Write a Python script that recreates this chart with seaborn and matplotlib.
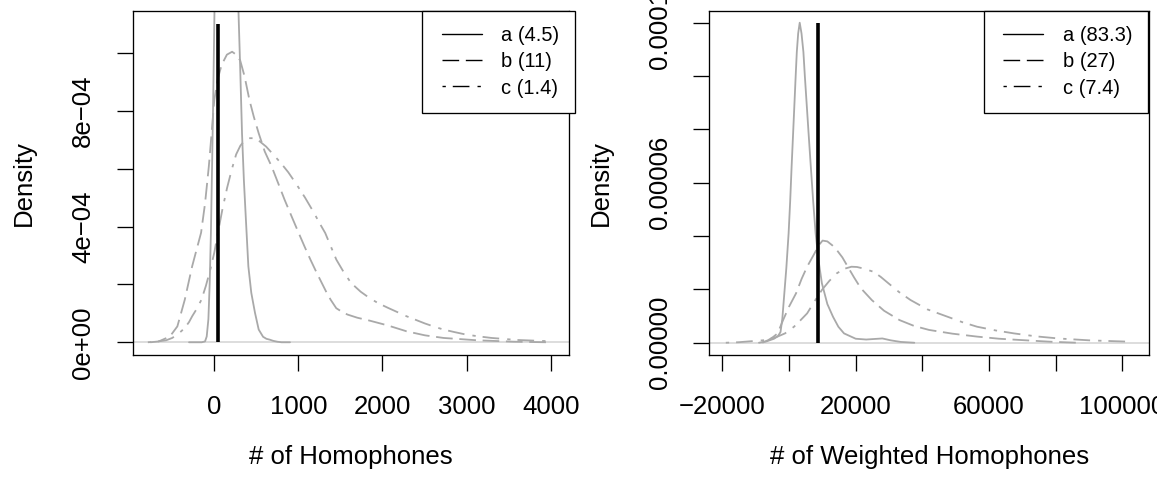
import numpy as np
import pandas as pd
import matplotlib
matplotlib.use("Agg")
import matplotlib.pyplot as plt
from matplotlib.lines import Line2D
import seaborn as sns

# ---------------- data ----------------
# Left panel: # of Homophones
left_a_x = [-300, -150, -110, -90, -70, -55, -40, -28, -15, -5, 5, 20, 40, 70, 110, 150, 190, 230, 260, 287, 308, 330, 352, 374, 405, 440, 484, 528, 580, 620, 660, 700, 748, 800, 900]
left_a_y = [0, 0, 3e-6, 2e-5, 8e-5, 2e-4, 3.8e-4, 5.8e-4, 8e-4, 1.0e-3, 1.2e-3, 1.5e-3, 1.85e-3, 2.25e-3, 2.55e-3, 2.65e-3, 2.5e-3, 2.1e-3, 1.6e-3, 1.15e-3, 9.5e-4, 7.2e-4, 5.6e-4, 4.35e-4, 2.63e-4, 1.71e-4, 1.02e-4, 4.4e-5, 1.9e-5, 1.2e-5, 9e-6, 5e-6, 2e-6, 0, 0]
left_b_x = [-760, -660, -528, -439, -351, -263, -157, -110, -65, -30, 0, 40, 88, 150, 212, 260, 308, 360, 418, 470, 528, 600, 682, 760, 836, 920, 1002, 1075, 1143, 1210, 1275, 1330, 1384, 1450, 1520, 1583, 1700, 1846, 2066, 2286, 2505, 2725, 3120, 3560, 3955]
left_b_y = [0, 3e-6, 2e-5, 5.5e-5, 1.47e-4, 2.63e-4, 3.79e-4, 4.8e-4, 6.08e-4, 7.3e-4, 8.38e-4, 9.1e-4, 9.6e-4, 9.95e-4, 1.005e-3, 9.95e-4, 9.75e-4, 9.2e-4, 8.38e-4, 7.8e-4, 7.23e-4, 6.6e-4, 6.08e-4, 5.5e-4, 4.93e-4, 4.35e-4, 3.79e-4, 3.3e-4, 2.86e-4, 2.45e-4, 2.07e-4, 1.75e-4, 1.47e-4, 1.18e-4, 1.05e-4, 9.6e-5, 8.5e-5, 7.5e-5, 5.8e-5, 3.8e-5, 2.4e-5, 1.5e-5, 7e-6, 2e-6, 0]
left_c_x = [-790, -680, -571, -500, -439, -390, -351, -300, -263, -210, -153, -100, -44, 0, 44, 100, 153, 210, 260, 310, 360, 410, 462, 540, 616, 700, 792, 880, 967, 1080, 1187, 1250, 1319, 1385, 1451, 1540, 1627, 1740, 1846, 1950, 2066, 2180, 2286, 2400, 2505, 2615, 2725, 2860, 2988, 3140, 3296, 3600, 3999]
left_c_y = [0, 2.5e-6, 7e-6, 1.5e-5, 2.66e-5, 3.9e-5, 4.97e-5, 7e-5, 9e-5, 1.15e-4, 1.47e-4, 1.95e-4, 2.55e-4, 3.1e-4, 3.8e-4, 4.65e-4, 5.35e-4, 6.0e-4, 6.5e-4, 6.8e-4, 6.98e-4, 7.06e-4, 7.06e-4, 6.95e-4, 6.77e-4, 6.5e-4, 6.2e-4, 5.88e-4, 5.51e-4, 5.0e-4, 4.47e-4, 4.13e-4, 3.78e-4, 3.32e-4, 2.86e-4, 2.42e-4, 2.05e-4, 1.75e-4, 1.53e-4, 1.35e-4, 1.19e-4, 1.04e-4, 9.0e-5, 7.7e-5, 6.5e-5, 5.4e-5, 4.4e-5, 3.5e-5, 2.7e-5, 2.05e-5, 1.5e-5, 8e-6, 3.5e-6]
left_obs = 40
left_top = 1.1e-3
left_labels = ["a (4.5)", "b (11)", "c (1.4)"]
left_xticks = [0, 1000, 2000, 3000, 4000]
left_xticklabels = ["0", "1000", "2000", "3000", "4000"]
left_yticks = [0, 2e-4, 4e-4, 6e-4, 8e-4, 1e-3]
left_yticklabels = ["0e+00", "", "4e\u221204", "", "8e\u221204", ""]
left_xlim = (-970, 4221)
left_ylim = (-4.4e-5, 1.147e-3)

# Right panel: # of Weighted Homophones
right_a_x = [-9000, -6750, -4500, -3300, -2550, -2000, -1560, -800, -120, 350, 780, 1250, 1680, 2000, 2340, 2750, 3210, 3750, 4320, 4750, 5220, 5900, 6540, 7250, 7980, 8900, 9860, 11500, 13190, 14800, 16500, 20000, 23150, 25500, 28000, 30500, 33500, 37570]
right_a_y = [0, 5e-7, 1.5e-6, 2.5e-6, 4e-6, 9e-6, 1.6e-5, 2.8e-5, 4.1e-5, 5.3e-5, 6.6e-5, 7.9e-5, 9.1e-5, 1.0e-4, 1.09e-4, 1.16e-4, 1.2e-4, 1.16e-4, 1.09e-4, 1.0e-4, 9.1e-5, 7.8e-5, 6.6e-5, 5.3e-5, 4.1e-5, 3.05e-5, 2.23e-5, 1.45e-5, 9.75e-6, 6e-6, 3.5e-6, 1.5e-6, 1.2e-6, 1.4e-6, 1.6e-6, 9e-7, 3e-7, 0]
right_b_x = [-8000, -6200, -4700, -3420, -1770, 0, 2100, 3800, 5430, 7650, 8900, 10070, 11500, 13000, 14300, 16000, 17630, 19500, 21500, 24830, 28500, 33130, 37500, 42000, 49000, 56370, 63000, 69700, 78000, 86400]
right_b_y = [0, 1.0e-6, 2.2e-6, 3.5e-6, 8.5e-6, 1.35e-5, 1.85e-5, 2.4e-5, 2.85e-5, 3.35e-5, 3.65e-5, 3.83e-5, 3.8e-5, 3.65e-5, 3.48e-5, 3.2e-5, 2.85e-5, 2.45e-5, 2.05e-5, 1.6e-5, 1.2e-5, 8.5e-6, 6.3e-6, 4.8e-6, 3.4e-6, 2.3e-6, 1.5e-6, 1.0e-6, 4e-7, 0]
right_c_x = [-18950, -15000, -12000, -9000, -6750, -4000, -1200, 1500, 3500, 5430, 7650, 9870, 12100, 14300, 16500, 18740, 20400, 22070, 25370, 27500, 29800, 33000, 36460, 41500, 47530, 52000, 56400, 62000, 67470, 74000, 80780, 90000, 101830]
right_c_y = [0, 2e-7, 5e-7, 8e-7, 1.0e-6, 2e-6, 3.5e-6, 6e-6, 8.5e-6, 1.1e-5, 1.55e-5, 1.98e-5, 2.32e-5, 2.6e-5, 2.77e-5, 2.85e-5, 2.84e-5, 2.79e-5, 2.66e-5, 2.47e-5, 2.23e-5, 1.9e-5, 1.6e-5, 1.25e-5, 9.75e-6, 7.7e-6, 6.0e-6, 4.6e-6, 3.5e-6, 2.4e-6, 1.6e-6, 9e-7, 4e-7]
right_obs = 8790
right_top = 1.2e-4
right_labels = ["a (83.3)", "b (27)", "c (7.4)"]
right_xticks = [-20000, 0, 20000, 40000, 60000, 80000, 100000]
right_xticklabels = ["\u221220000", "", "20000", "", "60000", "", "100000"]
right_yticks = [0, 2e-5, 4e-5, 6e-5, 8e-5, 1e-4, 1.2e-4]
right_yticklabels = ["0.00000", "", "", "0.00006", "", "", "0.00012"]
right_xlim = (-23900, 108040)
right_ylim = (-4.6e-6, 1.245e-4)

# ---------------- styling ----------------
sns.set_theme(style="white")
plt.rcParams['font.family'] = ['Liberation Sans', 'DejaVu Sans']
plt.rcParams['lines.scale_dashes'] = False
for k in ["text.color", "axes.labelcolor", "xtick.color", "ytick.color", "axes.edgecolor"]:
    plt.rcParams[k] = "black"

GREY = "#a9a9a9"
ZERO = "#d3d3d3"
DASH = (0, (12, 4.8))
DASHDOT = (0, (2.4, 5, 12, 5.8))
FS = 18.5
LFS = 14.5
LEG_SHIFT = 2.9  # points: blank space before legend key lines

W, H = 1157, 483
fig = plt.figure(figsize=(W / 100, H / 100), dpi=100)
fig.patch.set_facecolor("white")

def rect(x0, x1, ytop, ybot):
    return [x0 / W, (H - ybot) / H, (x1 - x0) / W, (ybot - ytop) / H]

ax1 = fig.add_axes(rect(132.7, 569.3, 10.7, 355))
ax2 = fig.add_axes(rect(709.3, 1149.3, 10.7, 355))

def panel(ax, ax_, ay_, bx_, by_, cx_, cy_, obs, top, labels, xt, xtl, yt, ytl, xlim, ylim,
          xlabel, ylx, leg_anchor):
    ax.axhline(0, color=ZERO, lw=1.1, zorder=1)
    sns.lineplot(x=ax_, y=ay_, ax=ax, color=GREY, lw=1.3, sort=False, estimator=None, zorder=2)
    sns.lineplot(x=bx_, y=by_, ax=ax, color=GREY, lw=1.3, sort=False, estimator=None,
                 linestyle=DASH, zorder=2)
    sns.lineplot(x=cx_, y=cy_, ax=ax, color=GREY, lw=1.3, sort=False, estimator=None,
                 linestyle=DASHDOT, zorder=2)
    ax.vlines(obs, 0, top, color="black", lw=2.6, zorder=3)
    ax.set_xlim(*xlim)
    ax.set_ylim(*ylim)
    ax.set_xticks(xt)
    ax.set_xticklabels(xtl)
    ax.set_yticks(yt)
    ax.set_yticklabels(ytl, rotation=90, va="center")
    ax.tick_params(axis="both", direction="out", length=11.5, width=0.95, color="black",
                   labelsize=FS, labelcolor="black")
    ax.tick_params(axis="x", pad=17)
    ax.tick_params(axis="y", pad=15.5)
    ax.tick_params(left=True, bottom=True)
    for s in ax.spines.values():
        s.set_visible(True)
        s.set_color("black")
        s.set_linewidth(0.95)
    ax.set_xlabel(xlabel, fontsize=FS, va="center", color="black")
    ax.xaxis.set_label_coords(0.5, -0.295)
    ax.set_ylabel("Density", fontsize=FS, va="center", color="black")
    ax.yaxis.set_label_coords(ylx, 0.5)
    handles = [Line2D([0], [0], color="black", lw=1.0, linestyle="-"),
               Line2D([0], [0], color="black", lw=1.0, linestyle=DASH),
               Line2D([0], [0], color="black", lw=1.0, linestyle=DASHDOT)]
    leg = ax.legend(handles, labels, loc="upper right", bbox_to_anchor=leg_anchor,
                    fontsize=LFS, frameon=True, fancybox=False, framealpha=1,
                    edgecolor="black", borderpad=0.78, handlelength=2.19,
                    handletextpad=0.96, labelspacing=0.35, borderaxespad=0)
    leg.get_frame().set_linewidth(0.95)
    for t in leg.get_texts():
        t.set_color("black")
    for ln in leg.get_lines():
        xd = list(ln.get_xdata())
        ln.set_xdata([xd[0] + LEG_SHIFT, xd[-1]])
        ln.set_ydata([ln.get_ydata()[0]] * 2)
    ax.grid(False)

panel(ax1, left_a_x, left_a_y, left_b_x, left_b_y, left_c_x, left_c_y, left_obs, left_top,
      left_labels, left_xticks, left_xticklabels, left_yticks, left_yticklabels,
      left_xlim, left_ylim, "# of Homophones", -0.249, (1.013, 1.0))
panel(ax2, right_a_x, right_a_y, right_b_x, right_b_y, right_c_x, right_c_y, right_obs, right_top,
      right_labels, right_xticks, right_xticklabels, right_yticks, right_yticklabels,
      right_xlim, right_ylim, "# of Weighted Homophones", -0.246, (0.997, 1.0))

fig.savefig("out.png", dpi=100, facecolor="white")
